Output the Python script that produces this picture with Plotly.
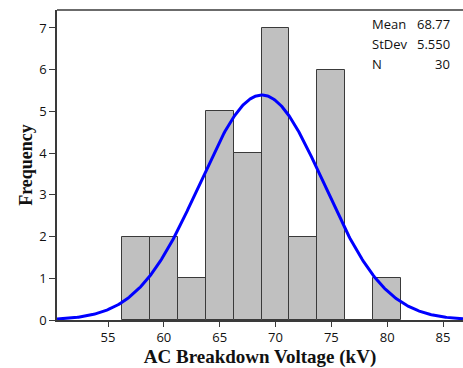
import numpy as np
import plotly.graph_objects as go

# Histogram bins (centres, kV) and counts
bin_centers = [57.5, 60.0, 62.5, 65.0, 67.5, 70.0, 72.5, 75.0, 77.5, 80.0]
counts = [2, 2, 1, 5, 4, 7, 2, 6, 0, 1]
bin_width = 2.5

# Summary statistics shown in the corner box
mean_kv = 68.77
stdev_kv = 5.550
n_samples = 30
stat_labels = ["Mean", "StDev", "N"]
stat_values = ["68.77", "5.550", "30"]

x_ticks = [55, 60, 65, 70, 75, 80, 85]
y_ticks = [0, 1, 2, 3, 4, 5, 6, 7]
x_range = [50.43, 86.79]
y_range = [0, 7.43]

# Fitted normal curve, scaled to frequency (N * bin width)
xs = np.linspace(x_range[0], x_range[1], 400)
pdf = np.exp(-0.5 * ((xs - mean_kv) / stdev_kv) ** 2) / (stdev_kv * np.sqrt(2 * np.pi))
fit = pdf * n_samples * bin_width

tick_font = dict(family="Open Sans, Noto Sans, sans-serif", size=13, color="#111111")
serif = "Liberation Serif, Times New Roman, serif"
xtitle_font = dict(family=serif, size=19, color="#111111", weight="bold")
ytitle_font = dict(family=serif, size=18, color="#111111", weight="bold")
frame_color = "#3a3a3a"

fig = go.Figure()
fig.add_trace(go.Bar(
    x=bin_centers, y=counts, width=bin_width,
    marker=dict(color="#C0C0C0", line=dict(color=frame_color, width=1)),
    showlegend=False, hoverinfo="x+y",
))
fig.add_trace(go.Scatter(
    x=xs, y=fit, mode="lines",
    line=dict(color="#0000FF", width=3),
    showlegend=False, hoverinfo="skip",
))

annotations = []
row_y = [0.955, 0.890, 0.826]
for lab, val, yy in zip(stat_labels, stat_values, row_y):
    annotations.append(dict(xref="paper", yref="paper", x=0.771, y=yy, text=lab,
                            showarrow=False, xanchor="left", yanchor="middle",
                            font=tick_font))
    annotations.append(dict(xref="paper", yref="paper", x=0.973, y=yy, text=val,
                            showarrow=False, xanchor="right", yanchor="middle",
                            font=tick_font))

fig.update_layout(
    width=463, height=368,
    margin=dict(l=57, r=0, t=10, b=48),
    paper_bgcolor="white", plot_bgcolor="white",
    bargap=0,
    annotations=annotations,
    shapes=[dict(type="line", xref="paper", yref="paper", x0=0, x1=1, y0=1, y1=1,
                 line=dict(color=frame_color, width=1.5))],
    xaxis=dict(
        range=x_range, tickvals=x_ticks, ticks="outside", ticklen=5, tickwidth=1,
        tickcolor=frame_color, showline=True, linecolor=frame_color, linewidth=1.5,
        showgrid=False, zeroline=False, tickfont=tick_font,
        title=dict(text="AC Breakdown Voltage (kV)", font=xtitle_font, standoff=4),
    ),
    yaxis=dict(
        range=y_range, tickvals=y_ticks, ticks="outside", ticklen=6, tickwidth=1,
        tickcolor=frame_color, showline=True, linecolor=frame_color, linewidth=1.5,
        showgrid=False, zeroline=False, tickfont=tick_font,
        title=dict(text="Frequency", font=ytitle_font, standoff=2),
    ),
)

fig.write_html("out.html")
